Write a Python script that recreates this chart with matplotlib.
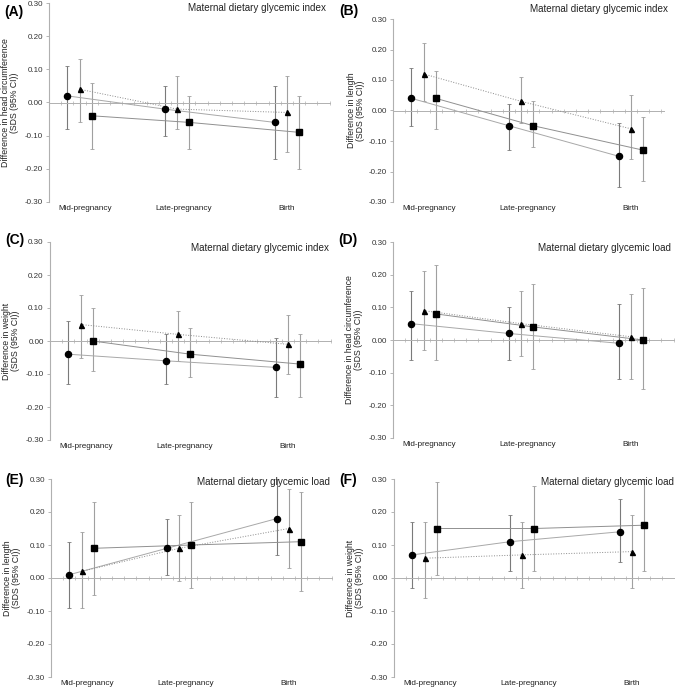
import numpy as np
import matplotlib
matplotlib.use('Agg')
import matplotlib.pyplot as plt

plt.rcParams['font.family'] = ['Liberation Sans', 'DejaVu Sans']

periods = ['Mid-pregnancy', 'Late-pregnancy', 'Birth']
series = ['circle', 'triangle', 'square']

# (A) head circumference, glycemic index
est_a = [[0.02, -0.02, -0.06], [0.04, -0.02, -0.03], [-0.04, -0.06, -0.09]]
lo_a = [[-0.08, -0.10, -0.17], [-0.06, -0.08, -0.15], [-0.14, -0.14, -0.20]]
hi_a = [[0.11, 0.05, 0.05], [0.13, 0.08, 0.08], [0.06, 0.02, 0.02]]

# (B) length, glycemic index
est_b = [[0.04, -0.05, -0.15], [0.12, 0.03, -0.06], [0.04, -0.05, -0.13]]
lo_b = [[-0.05, -0.13, -0.25], [0.03, -0.04, -0.16], [-0.06, -0.12, -0.23]]
hi_b = [[0.14, 0.02, -0.04], [0.22, 0.11, 0.05], [0.13, 0.03, -0.02]]

# (C) weight, glycemic index
est_c = [[-0.04, -0.06, -0.08], [0.05, 0.02, -0.01], [0.00, -0.04, -0.07]]
lo_c = [[-0.13, -0.13, -0.17], [-0.05, -0.06, -0.10], [-0.09, -0.11, -0.17]]
hi_c = [[0.06, 0.02, 0.01], [0.14, 0.09, 0.08], [0.10, 0.04, 0.02]]

# (D) head circumference, glycemic load
est_d = [[0.05, 0.02, -0.01], [0.09, 0.05, 0.01], [0.08, 0.04, 0.00]]
lo_d = [[-0.06, -0.06, -0.12], [-0.03, -0.05, -0.12], [-0.06, -0.09, -0.15]]
hi_d = [[0.15, 0.10, 0.11], [0.21, 0.15, 0.14], [0.23, 0.17, 0.16]]

# (E) length, glycemic load
est_e = [[0.01, 0.09, 0.18], [0.02, 0.09, 0.15], [0.09, 0.10, 0.11]]
lo_e = [[-0.09, 0.01, 0.07], [-0.09, -0.01, 0.03], [-0.05, -0.03, -0.04]]
hi_e = [[0.11, 0.18, 0.30], [0.14, 0.19, 0.27], [0.23, 0.23, 0.26]]

# (F) weight, glycemic load
est_f = [[0.07, 0.11, 0.14], [0.06, 0.07, 0.08], [0.15, 0.15, 0.16]]
lo_f = [[-0.03, 0.02, 0.05], [-0.06, -0.03, -0.03], [0.01, 0.02, 0.02]]
hi_f = [[0.17, 0.19, 0.24], [0.17, 0.17, 0.19], [0.29, 0.28, 0.30]]

letters = ['(A)', '(B)', '(C)', '(D)', '(E)', '(F)']
titles = ['Maternal dietary glycemic index'] * 3 + ['Maternal dietary glycemic load'] * 3
ylabels = ['Difference in head circumference', 'Difference in length', 'Difference in weight',
           'Difference in head circumference', 'Difference in length', 'Difference in weight']
panels = [(est_a, lo_a, hi_a), (est_b, lo_b, hi_b), (est_c, lo_c, hi_c),
          (est_d, lo_d, hi_d), (est_e, lo_e, hi_e), (est_f, lo_f, hi_f)]

W, H = 675, 690
# axes boxes in pixels: left, top, right, bottom
boxes = [(49, 3, 330, 202), (393, 19, 664, 202),
         (50, 242, 331, 440), (393, 242, 674, 438),
         (51, 479, 332, 677), (394, 479, 675, 677)]
letter_pos = [(4, 12), (339, 11), (5, 240), (338, 240), (5, 480), (339, 480)]
title_pos = [(326, 8), (668, 9), (329, 248), (671, 248), (330, 482), (674, 482)]

group_x = [1, 9, 18]
markers = ['o', '^', 's']
msizes = [4.4, 3.6, 4.6]
lstyles = ['-', ':', '-']
lcolors = ['#a8a8a8', '#8a8a8a', '#909090']
ecolors = ['#7a7a7a', '#a0a0a0', '#a0a0a0']
label_x = [2.45, 10.5, 19.0]
px_per_cat = 12.2

fig = plt.figure(figsize=(W / 100, H / 100), dpi=100)

for k, (est, lo, hi) in enumerate(panels):
    l, t, r, b = boxes[k]
    ax = fig.add_axes([l / W, 1 - b / H, (r - l) / W, (b - t) / H])
    xmax = -0.5 + (r - l) / px_per_cat
    for s in range(3):
        xs = np.array(group_x) + s
        e = np.array(est[s])
        yerr = [e - np.array(lo[s]), np.array(hi[s]) - e]
        ax.errorbar(xs, e, yerr=yerr, fmt='none', ecolor=ecolors[s],
                    elinewidth=0.8, capsize=1.2, capthick=0.6, zorder=2)
        ax.plot(xs, e, linestyle=lstyles[s], color=lcolors[s], linewidth=0.7, zorder=3)
        ax.plot(xs, e, linestyle='none', marker=markers[s], markersize=msizes[s],
                color='black', zorder=4)

    ax.set_xlim(-0.5, xmax)
    ax.set_ylim(-0.30, 0.30)
    ax.set_yticks(np.arange(-0.3, 0.31, 0.1))
    ax.set_yticklabels([f'{v:.2f}' for v in np.arange(-0.3, 0.31, 0.1)])
    ax.tick_params(axis='y', direction='out', length=2.5, width=0.6, color='#aaaaaa',
                   labelsize=5.8, labelcolor='#333333', pad=2)
    ax.set_xticks(np.arange(0.5, xmax, 1.0))
    ax.set_xticklabels([])
    ax.tick_params(axis='x', direction='inout', length=2.5, width=0.5, color='#b0b0b0')
    ax.spines['top'].set_visible(False)
    ax.spines['right'].set_visible(False)
    ax.spines['left'].set_color('#b0b0b0')
    ax.spines['left'].set_linewidth(0.8)
    ax.spines['bottom'].set_position(('data', 0))
    ax.spines['bottom'].set_color('#b0b0b0')
    ax.spines['bottom'].set_linewidth(0.7)
    ax.patch.set_visible(False)

    for p, xl in zip(periods, label_x):
        ax.annotate(p, xy=(xl, 0), xycoords=('data', 'axes fraction'),
                    xytext=(0, -2), textcoords='offset points',
                    ha='center', va='top', fontsize=5.9, color='#222222')

    ax.set_ylabel(ylabels[k] + '\n(SDS (95% CI))', fontsize=6.3, linespacing=1.0,
                  color='#222222')
    ax.yaxis.set_label_coords(-0.105, 0.5)

    lx, ly = letter_pos[k]
    fig.text(lx / W, 1 - ly / H, letters[k], fontsize=10, fontweight='bold',
             ha='left', va='center')
    tx, ty = title_pos[k]
    fig.text(tx / W, 1 - ty / H, titles[k], fontsize=7.1, ha='right', va='center',
             color='#222222')

plt.savefig('out.png', dpi=100)
plt.close()
